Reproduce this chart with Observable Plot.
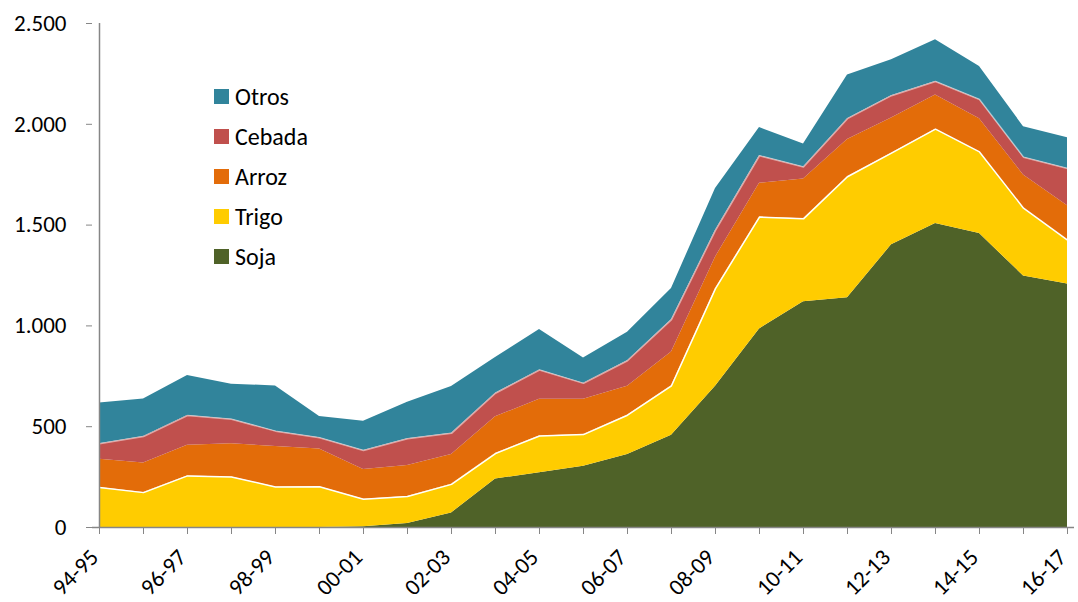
<!DOCTYPE html>
<html>
<head>
<meta charset="utf-8">
<script src="https://cdn.jsdelivr.net/npm/d3@7"></script>
<script src="https://cdn.jsdelivr.net/npm/@observablehq/plot@0.6"></script>
<style>
  html, body { margin: 0; padding: 0; background: #fff; }
  #wrap { position: relative; width: 1078px; height: 602px; font-family: Carlito, Calibri, Lato, sans-serif; }
  #wrap svg text { font-size: 23px; fill: #000; }
  #legend { position: absolute; left: 214px; top: 77px; font-size: 24px; color: #000; }
  #legend .row { display: flex; align-items: center; height: 39.8px; }
  #legend .sw { width: 15px; height: 15px; margin-right: 6px; }
</style>
</head>
<body>
<div id="wrap"><div id="legend"></div></div>
<script>
const seasons = ["94-95","95-96","96-97","97-98","98-99","99-00","00-01","01-02","02-03","03-04","04-05","05-06","06-07","07-08","08-09","09-10","10-11","11-12","12-13","13-14","14-15","15-16","16-17"];
const soja   = [0, 0, 0, 0, 0, 0, 4, 20, 72, 241, 271, 304, 362, 457, 701, 985, 1120, 1140, 1402, 1508, 1458, 1248, 1208];
const trigo  = [198, 173, 256, 251, 201, 202, 136, 134, 142, 126, 183, 157, 195, 246, 484, 555, 411, 600, 455, 468, 405, 336, 218];
const arroz  = [140, 147, 152, 164, 201, 187, 148, 154, 148, 182, 182, 175, 144, 167, 156, 168, 198, 185, 174, 169, 165, 165, 170];
const cebada = [77, 131, 147, 122, 76, 56, 94, 132, 105, 117, 145, 79, 126, 161, 133, 136, 59, 103, 111, 67, 95, 88, 185];
const otros  = [202, 186, 199, 174, 224, 106, 145, 181, 232, 177, 201, 126, 142, 155, 207, 140, 114, 216, 178, 207, 164, 151, 152];

const seriesNames = ["Soja", "Trigo", "Arroz", "Cebada", "Otros"];
const seriesValues = [soja, trigo, arroz, cebada, otros];
const seriesColors = ["#4F6228", "#FFCC00", "#E36C09", "#C0504D", "#31849B"];
const yTicks = [0, 500, 1000, 1500, 2000, 2500];

const data = [];
seriesNames.forEach((name, k) => {
  seasons.forEach((s, i) => data.push({season: s, crop: name, value: seriesValues[k][i]}));
});

const fmt = d3.formatLocale({decimal: ",", thousands: ".", grouping: [3], currency: ["", ""]}).format(",");
const font = "Carlito, Calibri, Lato, sans-serif";

const chart = Plot.plot({
  width: 1078,
  height: 602,
  marginLeft: 92,
  marginRight: 4,
  marginTop: 23,
  marginBottom: 75,
  style: {fontFamily: font, fontSize: "23px", color: "#000", background: "#fff"},
  x: {type: "point", domain: seasons, padding: 0},
  y: {domain: [0, 2500]},
  color: {domain: seriesNames, range: seriesColors},
  marks: [
    Plot.areaY(data, Plot.stackY({x: "season", y: "value", fill: "crop", order: seriesNames})),
    Plot.lineY(data, Plot.stackY2({
      x: "season", y: "value", z: "crop", order: seriesNames,
      stroke: "white",
      strokeWidth: 1.5,
      strokeOpacity: d => d.crop === "Trigo" ? 1 : (d.crop === "Cebada" ? 0.5 : 0)
    })),
    Plot.ruleX([seasons[0]], {stroke: "#868686", strokeWidth: 1.5}),
    Plot.ruleY([0], {stroke: "#868686", strokeWidth: 1.5}),
    Plot.axisY({ticks: yTicks, tickFormat: fmt, tickSize: 6, tickPadding: 20, stroke: "#868686", fill: "#000", label: null}),
    Plot.axisX({ticks: seasons, tickFormat: d => seasons.indexOf(d) % 2 === 0 ? d : "", tickRotate: -45, tickSize: 7, stroke: "#868686", label: null, text: null}),
    Plot.axisX({ticks: seasons.filter((d, i) => i % 2 === 0), tickRotate: -45, tickSize: 0, tickPadding: 26, dx: -5, fill: "#000", label: null})
  ]
});
document.getElementById("wrap").prepend(chart);

const legend = document.getElementById("legend");
for (let k = seriesNames.length - 1; k >= 0; k--) {
  const row = document.createElement("div");
  row.className = "row";
  const sw = document.createElement("div");
  sw.className = "sw";
  sw.style.background = seriesColors[k];
  const label = document.createElement("span");
  label.textContent = seriesNames[k];
  row.appendChild(sw);
  row.appendChild(label);
  legend.appendChild(row);
}
</script>
</body>
</html>
